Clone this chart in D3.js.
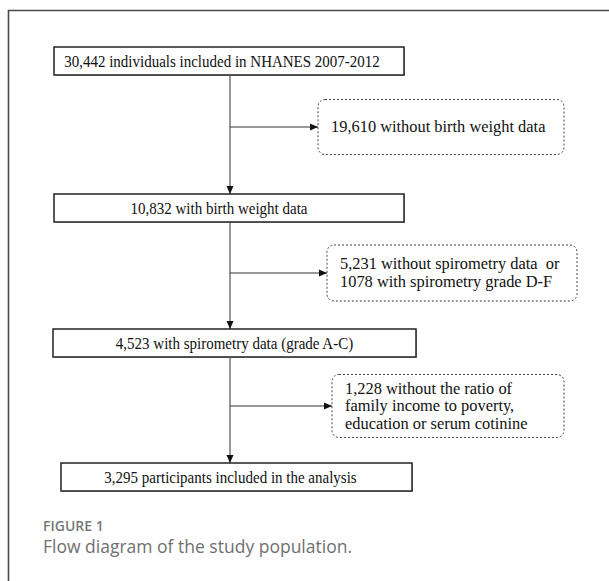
<!DOCTYPE html>
<html>
<head>
<meta charset="utf-8">
<script src="https://cdn.jsdelivr.net/npm/d3@7"></script>
<style>
  body { margin: 0; background: #fff; }
  svg { display: block; }
</style>
</head>
<body>
<div id="chart"></div>
<script>
// flow steps (main column)
var mainLabels = [
	'30,442 individuals included in NHANES 2007-2012',
	'10,832 with birth weight data',
	'4,523 with spirometry data (grade A-C)',
	'3,295 participants included in the analysis'
];

// exclusions between steps, one entry per gap
var exclusionLines = [
	['19,610 without birth weight data'],
	['5,231 without spirometry data  or', '1078 with spirometry grade D-F'],
	['1,228 without the ratio of', 'family income to poverty,', 'education or serum cotinine']
];

var figureLabel = 'FIGURE 1';
var figureCaption = 'Flow diagram of the study population.';

// layout
var W = 609, H = 581;
var trunkX = 230;
var boxH = 28;
var mainX = [[54, 404], [54, 404], [53, 416], [61, 412]];
var mainTextDx = [-7, -10, 0, -6];
var mainSquash = 0.915; // main box text is set narrower in the source figure
var exclX = [[318, 564], [327, 577], [332, 564]];
var exclH = [55, 56, 63];

// row position scales (step index -> y)
var rowTop = d3.scaleLinear().domain([0, 1, 2, 3]).range([47, 194, 329, 463]);
var gapY = d3.scaleLinear().domain([0, 1, 2]).range([127, 273, 406]);

var svg = d3.select('#chart').append('svg')
	.attr('width', W)
	.attr('height', H);

svg.append('defs').append('marker')
	.attr('id', 'arrow')
	.attr('viewBox', '0 0 8 8')
	.attr('refX', 8)
	.attr('refY', 4)
	.attr('markerWidth', 8)
	.attr('markerHeight', 8)
	.attr('markerUnits', 'userSpaceOnUse')
	.attr('orient', 'auto')
	.append('path')
	.attr('d', 'M0,0.5 L8,4 L0,7.5 Z')
	.attr('fill', '#111');

// frame (top and left edges only, the rest is cropped)
svg.append('path')
	.attr('d', 'M8.5,' + H + ' L8.5,10.5 L' + W + ',10.5')
	.attr('fill', 'none')
	.attr('stroke', '#4a4a4a')
	.attr('stroke-width', 1.6);

// vertical connectors between main boxes
svg.append('g')
	.selectAll('line')
	.data(d3.range(mainLabels.length - 1))
	.enter()
	.append('line')
	.attr('x1', trunkX)
	.attr('x2', trunkX)
	.attr('y1', function(d) { return rowTop(d) + boxH; })
	.attr('y2', function(d) { return rowTop(d + 1); })
	.attr('stroke', '#333')
	.attr('stroke-width', 1)
	.attr('marker-end', 'url(#arrow)');

// horizontal arrows to exclusion boxes
svg.append('g')
	.selectAll('line')
	.data(exclusionLines)
	.enter()
	.append('line')
	.attr('x1', trunkX)
	.attr('x2', function(d, i) { return exclX[i][0]; })
	.attr('y1', function(d, i) { return gapY(i); })
	.attr('y2', function(d, i) { return gapY(i); })
	.attr('stroke', '#333')
	.attr('stroke-width', 1)
	.attr('marker-end', 'url(#arrow)');

// main boxes
var mains = svg.append('g')
	.selectAll('g')
	.data(mainLabels)
	.enter()
	.append('g');

mains.append('rect')
	.attr('x', function(d, i) { return mainX[i][0] + 1; })
	.attr('y', function(d, i) { return rowTop(i) + 1; })
	.attr('width', function(d, i) { return mainX[i][1] - mainX[i][0]; })
	.attr('height', boxH)
	.attr('fill', '#bbb');

mains.append('rect')
	.attr('x', function(d, i) { return mainX[i][0]; })
	.attr('y', function(d, i) { return rowTop(i); })
	.attr('width', function(d, i) { return mainX[i][1] - mainX[i][0]; })
	.attr('height', boxH)
	.attr('fill', '#fff')
	.attr('stroke', '#222')
	.attr('stroke-width', 1.5);

mains.append('text')
	.attr('transform', function(d, i) {
		var cx = (mainX[i][0] + mainX[i][1]) / 2 + mainTextDx[i];
		var by = rowTop(i) + boxH / 2 + 5.5;
		return 'translate(' + cx + ',' + by + ') scale(' + mainSquash + ',1)';
	})
	.attr('text-anchor', 'middle')
	.attr('font-family', '"Liberation Serif", "Times New Roman", serif')
	.attr('font-size', 16.4)
	.attr('fill', '#111')
	.text(function(d) { return d; });

// exclusion boxes (dashed, rounded)
var excl = svg.append('g')
	.selectAll('g')
	.data(exclusionLines)
	.enter()
	.append('g');

excl.append('rect')
	.attr('x', function(d, i) { return exclX[i][0]; })
	.attr('y', function(d, i) { return gapY(i) - exclH[i] / 2; })
	.attr('width', function(d, i) { return exclX[i][1] - exclX[i][0]; })
	.attr('height', function(d, i) { return exclH[i]; })
	.attr('rx', 7)
	.attr('fill', '#fff')
	.attr('stroke', '#444')
	.attr('stroke-width', 1)
	.attr('stroke-dasharray', '2,2');

excl.each(function(lines, i) {
	d3.select(this).selectAll('text')
		.data(lines)
		.enter()
		.append('text')
		.attr('x', exclX[i][0] + 13)
		.attr('y', function(d, j) { return gapY(i) + 5 + (j - (lines.length - 1) / 2) * 17.5; })
		.attr('font-family', '"Liberation Serif", "Times New Roman", serif')
		.attr('font-size', 16.4)
		.attr('fill', '#111')
		.attr('xml:space', 'preserve')
		.style('white-space', 'pre')
		.text(function(d) { return d; });
});

// caption
svg.append('text')
	.attr('x', 43)
	.attr('y', 531)
	.attr('font-family', '"Open Sans", "Noto Sans", sans-serif')
	.attr('font-size', 14)
	.attr('font-weight', 600)
	.attr('fill', '#777')
	.text(figureLabel);

svg.append('text')
	.attr('x', 43)
	.attr('y', 553)
	.attr('font-family', '"Open Sans", "Noto Sans", sans-serif')
	.attr('font-size', 17.5)
	.attr('fill', '#6f6f6f')
	.text(figureCaption);
</script>
</body>
</html>
